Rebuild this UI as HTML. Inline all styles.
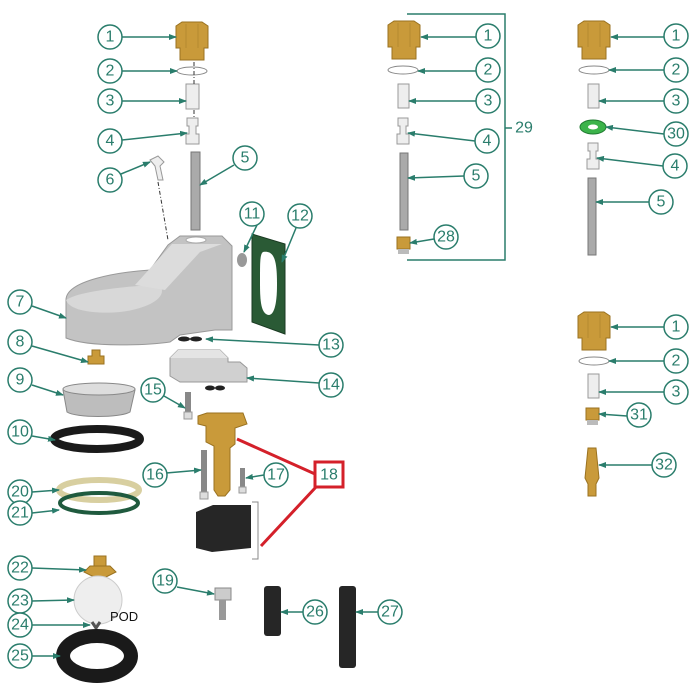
<!DOCTYPE html>
<html><head><meta charset="utf-8"><style>
html,body{margin:0;padding:0;background:#fff}
svg{display:block}
.c circle{fill:#fff;stroke:#2a7d6c;stroke-width:1.5}
.c text{fill:#2a7d6c;font-family:"Liberation Sans",sans-serif;font-size:16px;text-anchor:middle;dominant-baseline:central}
.l{stroke:#2a7d6c;stroke-width:1.5;fill:none;marker-end:url(#ar)}
.br{fill:#c99a3a;stroke:#9a7220;stroke-width:1}
.wh{fill:#eee;stroke:#999;stroke-width:1}
.dash{stroke:#333;stroke-width:1;stroke-dasharray:4 2 1 2;fill:none}
</style></head><body>
<svg width="700" height="700" viewBox="0 0 700 700" xmlns="http://www.w3.org/2000/svg">
<defs>
<marker id="ar" markerWidth="8" markerHeight="6" refX="7" refY="3" orient="auto" markerUnits="userSpaceOnUse"><path d="M0 0 L8 3 L0 6Z" fill="#2a7d6c"/></marker>
<g id="nut"><path class="br" d="M0 4 L6 0 H26 L32 4 V26 H28 V38 H4 V26 H0 Z"/><path d="M10 2 V26 M22 2 V26" stroke="#b58a30" fill="none"/></g>
</defs>

<use href="#nut" x="176" y="22"/>
<ellipse cx="192" cy="71" rx="15" ry="4" fill="none" stroke="#888"/>
<rect class="wh" x="186" y="84" width="13" height="25"/>
<path class="wh" d="M187 118 h11 v8 h-2 v8 h3 v10 h-13 v-10 h3 v-8 h-2z"/>
<rect x="191" y="152" width="9" height="78" fill="#aaa" stroke="#777"/>
<path class="wh" d="M150 160 l8 -4 l6 6 l-4 4 l3 14 h-5 l-3 -14z"/>
<path class="dash" d="M158 182 L168 240"/>
<path class="dash" d="M194 62 V84 M194 110 V118"/>
<path fill="#c3c3c3" stroke="#999" d="M66 300 C66 280 120 272 150 270 L168 245 L180 236 H222 L232 246 V330 L215 330 L180 335 L170 342 C150 345 90 348 66 338 Z"/>
<path fill="#d8d8d8" d="M66 300 C80 290 140 285 160 285 C170 300 140 310 120 312 C100 314 70 312 66 300Z"/>
<path fill="#dcdcdc" d="M135 285 L172 244 H222 L200 252 L165 290Z"/>
<ellipse cx="196" cy="240" rx="10" ry="3" fill="#fff" stroke="#aaa"/>
<ellipse cx="242" cy="260" rx="5" ry="7" fill="#999"/>
<path fill="#2a5a35" stroke="#1a3a22" d="M252 234 L285 244 V334 L252 322 Z"/>
<path fill="#fff" d="M263 252 C275 250 277 262 277 285 C277 310 272 318 266 314 C260 310 260 295 260 280 C260 262 260 254 263 252Z"/>
<ellipse cx="184" cy="339" rx="6" ry="2.5" fill="#222"/><ellipse cx="196" cy="339" rx="6" ry="2.5" fill="#222"/>
<path fill="#d0d0d0" stroke="#999" d="M170 358 L178 350 H220 L228 358 V362 H240 L247 368 V382 H180 L170 376Z"/>
<path fill="#e4e4e4" d="M170 358 L178 350 H220 L228 358Z"/>
<ellipse cx="210" cy="388" rx="5" ry="2.5" fill="#222"/><ellipse cx="220" cy="388" rx="5" ry="2.5" fill="#222"/>
<rect x="185" y="392" width="6" height="22" fill="#888"/><rect x="184" y="412" width="8" height="7" fill="#ddd" stroke="#999"/>
<path class="br" d="M198 416 L207 413 H243 L247 424 L235 428 V444 L230 448 V490 L225 496 H218 L214 490 V446 L206 442 V426 L198 424Z"/>
<rect x="201" y="450" width="6" height="44" fill="#888"/><rect x="200" y="492" width="8" height="7" fill="#ddd" stroke="#999"/>
<rect x="240" y="468" width="5" height="22" fill="#888"/><rect x="239" y="487" width="7" height="6" fill="#ddd" stroke="#999"/>
<path fill="#262626" d="M196 512 L213 505 H251 V548 L212 552 L196 548Z"/>
<path d="M252 502 h6 v57 h-6" fill="none" stroke="#888"/>
<rect x="315" y="462" width="28" height="25" fill="#fff" stroke="#d4202a" stroke-width="3"/>
<text x="329" y="475" font-family="Liberation Sans,sans-serif" font-size="16" fill="#2a7d6c" text-anchor="middle" dominant-baseline="central">18</text>
<path d="M237 439 L315 474 M316 487 L261 546" stroke="#d4202a" stroke-width="3"/>
<path class="br" d="M88 364 h16 v-8 h-4 v-6 h-8 v6 h-4z"/>
<path fill="#bdbdbd" stroke="#888" d="M63 390 C63 382 135 382 135 390 L130 412 C120 418 76 418 67 412 Z"/>
<ellipse cx="99" cy="389" rx="36" ry="6" fill="#ddd" stroke="#888"/>
<ellipse cx="97" cy="439" rx="43" ry="10" fill="none" stroke="#1a1a1a" stroke-width="8"/>
<ellipse cx="99" cy="490" rx="40" ry="10" fill="none" stroke="#d8cfa0" stroke-width="6"/>
<ellipse cx="99" cy="503" rx="39" ry="10" fill="none" stroke="#1f5a3e" stroke-width="4"/>
<path class="br" d="M84 572 L90 566 H110 L116 572 L104 578 H96Z M94 566 V556 H106 V566"/>
<circle cx="98" cy="600" r="24" fill="#eee" stroke="#ccc"/>
<text x="110" y="621" font-family="Liberation Sans,sans-serif" font-size="13" fill="#111">POD</text>
<path d="M92 622 l4 6 l4 -6" stroke="#555" stroke-width="3" fill="none"/>
<ellipse cx="97" cy="656" rx="34" ry="20" fill="none" stroke="#1a1a1a" stroke-width="14"/>
<rect x="215" y="588" width="16" height="12" fill="#ccc" stroke="#888"/><rect x="219" y="600" width="7" height="20" fill="#999"/>
<rect x="264" y="586" width="17" height="50" rx="3" fill="#262626"/>
<rect x="339" y="586" width="17" height="82" rx="3" fill="#262626"/>

<use href="#nut" x="388" y="21"/>
<ellipse cx="403" cy="70" rx="15" ry="4" fill="none" stroke="#888"/>
<rect class="wh" x="398" y="84" width="11" height="24"/>
<path class="wh" d="M398 118 h10 v8 h-2 v8 h3 v10 h-12 v-10 h3 v-8 h-2z"/>
<rect x="400" y="153" width="8" height="77" fill="#aaa" stroke="#777"/>
<path class="br" d="M397 237 h13 v12 h-13z"/><rect x="398" y="249" width="11" height="5" fill="#bbb"/>
<path d="M407 14 H505 V260 H407 M505 128 H512" stroke="#2a7d6c" stroke-width="1.5" fill="none"/>
<text x="524" y="128" font-family="Liberation Sans,sans-serif" font-size="16" fill="#2a7d6c" text-anchor="middle" dominant-baseline="central">29</text>

<use href="#nut" x="578" y="21"/>
<ellipse cx="594" cy="70" rx="15" ry="4" fill="none" stroke="#888"/>
<rect class="wh" x="588" y="84" width="11" height="24"/>
<ellipse cx="593" cy="127" rx="13" ry="7" fill="#3bb34a" stroke="#1f7a30"/><ellipse cx="593" cy="127" rx="5" ry="2.5" fill="#fff"/>
<path class="wh" d="M588 143 h10 v8 h-2 v8 h3 v10 h-12 v-10 h3 v-8 h-2z"/>
<rect x="588" y="178" width="8" height="77" fill="#aaa" stroke="#777"/>

<use href="#nut" x="578" y="312"/>
<ellipse cx="594" cy="361" rx="15" ry="4" fill="none" stroke="#888"/>
<rect class="wh" x="588" y="374" width="11" height="24"/>
<path class="br" d="M586 408 h13 v12 h-13z"/><rect x="587" y="420" width="11" height="5" fill="#bbb"/>
<path class="br" d="M588 448 h8 l3 30 l-3 6 v12 h-8 v-12 l-3 -6z"/>

<path class="l" d="M122 37 H176"/><path class="l" d="M122 71 H177"/><path class="l" d="M122 101 H186"/><path class="l" d="M122 140 L187 133"/><path class="l" d="M234 165 L200 185"/><path class="l" d="M121 174 L150 162"/><path class="l" d="M32 306 L66 318"/><path class="l" d="M32 346 L88 362"/><path class="l" d="M32 385 L63 395"/><path class="l" d="M32 436 L55 440"/><path class="l" d="M257 225 L244 252"/><path class="l" d="M296 228 L282 262"/><path class="l" d="M319 345 L206 339"/><path class="l" d="M319 383 L247 378"/><path class="l" d="M164 396 L185 408"/><path class="l" d="M143 475 L201 470"/><path class="l" d="M264 475 L246 478"/><path class="l" d="M32 492 L59 490"/><path class="l" d="M32 513 L59 510"/><path class="l" d="M32 568 L86 570"/><path class="l" d="M32 601 L74 600"/><path class="l" d="M32 625 L90 625"/><path class="l" d="M32 656 L60 656"/><path class="l" d="M177 587 L214 594"/><path class="l" d="M303 612 L281 612"/><path class="l" d="M378 612 L356 612"/>
<path class="l" d="M476 37 H421"/><path class="l" d="M476 71 H418"/><path class="l" d="M476 101 H409"/><path class="l" d="M475 141 L408 133"/><path class="l" d="M464 176 L408 178"/><path class="l" d="M434 239 L410 243"/><path class="l" d="M664 37 H611"/><path class="l" d="M664 70 H609"/><path class="l" d="M664 101 H599"/><path class="l" d="M664 134 L606 127"/><path class="l" d="M663 166 L597 158"/><path class="l" d="M649 202 L596 202"/><path class="l" d="M664 327 H611"/><path class="l" d="M664 361 H609"/><path class="l" d="M664 392 H599"/><path class="l" d="M627 416 L599 414"/><path class="l" d="M652 465 L599 465"/>

<g class="c">
<circle cx="110" cy="37" r="12"/><text x="110" y="37">1</text>
<circle cx="110" cy="71" r="12"/><text x="110" y="71">2</text>
<circle cx="110" cy="101" r="12"/><text x="110" y="101">3</text>
<circle cx="110" cy="141" r="12"/><text x="110" y="141">4</text>
<circle cx="245" cy="158" r="12"/><text x="245" y="158">5</text>
<circle cx="110" cy="180" r="12"/><text x="110" y="180">6</text>
<circle cx="20" cy="302" r="12"/><text x="20" y="302">7</text>
<circle cx="20" cy="342" r="12"/><text x="20" y="342">8</text>
<circle cx="20" cy="380" r="12"/><text x="20" y="380">9</text>
<circle cx="20" cy="432" r="12"/><text x="20" y="432">10</text>
<circle cx="252" cy="214" r="12"/><text x="252" y="214">11</text>
<circle cx="300" cy="216" r="12"/><text x="300" y="216">12</text>
<circle cx="331" cy="345" r="12"/><text x="331" y="345">13</text>
<circle cx="331" cy="385" r="12"/><text x="331" y="385">14</text>
<circle cx="153" cy="390" r="12"/><text x="153" y="390">15</text>
<circle cx="155" cy="475" r="12"/><text x="155" y="475">16</text>
<circle cx="276" cy="475" r="12"/><text x="276" y="475">17</text>
<circle cx="20" cy="492" r="12"/><text x="20" y="492">20</text>
<circle cx="20" cy="513" r="12"/><text x="20" y="513">21</text>
<circle cx="20" cy="568" r="12"/><text x="20" y="568">22</text>
<circle cx="20" cy="601" r="12"/><text x="20" y="601">23</text>
<circle cx="20" cy="625" r="12"/><text x="20" y="625">24</text>
<circle cx="20" cy="656" r="12"/><text x="20" y="656">25</text>
<circle cx="165" cy="581" r="12"/><text x="165" y="581">19</text>
<circle cx="315" cy="612" r="12"/><text x="315" y="612">26</text>
<circle cx="390" cy="612" r="12"/><text x="390" y="612">27</text>
<circle cx="488" cy="36" r="12"/><text x="488" y="36">1</text>
<circle cx="488" cy="70" r="12"/><text x="488" y="70">2</text>
<circle cx="488" cy="101" r="12"/><text x="488" y="101">3</text>
<circle cx="487" cy="141" r="12"/><text x="487" y="141">4</text>
<circle cx="476" cy="176" r="12"/><text x="476" y="176">5</text>
<circle cx="446" cy="237" r="12"/><text x="446" y="237">28</text>
<circle cx="676" cy="36" r="12"/><text x="676" y="36">1</text>
<circle cx="676" cy="70" r="12"/><text x="676" y="70">2</text>
<circle cx="676" cy="101" r="12"/><text x="676" y="101">3</text>
<circle cx="676" cy="134" r="12"/><text x="676" y="134">30</text>
<circle cx="675" cy="166" r="12"/><text x="675" y="166">4</text>
<circle cx="661" cy="202" r="12"/><text x="661" y="202">5</text>
<circle cx="676" cy="327" r="12"/><text x="676" y="327">1</text>
<circle cx="676" cy="361" r="12"/><text x="676" y="361">2</text>
<circle cx="676" cy="392" r="12"/><text x="676" y="392">3</text>
<circle cx="639" cy="415" r="12"/><text x="639" y="415">31</text>
<circle cx="664" cy="465" r="12"/><text x="664" y="465">32</text>
</g>
</svg>
</body></html>
